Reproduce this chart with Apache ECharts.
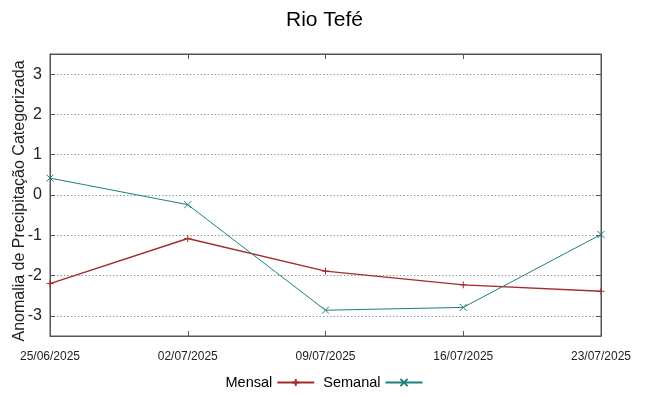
<!DOCTYPE html>
<html><head><meta charset="utf-8">
<script src="https://cdn.jsdelivr.net/npm/echarts@6/dist/echarts.min.js"></script>
<style>html,body{margin:0;padding:0;background:#fff}#c{width:649px;height:396px}</style>
</head><body><div id="c"></div>
<script>
const categories = ['25/06/2025','02/07/2025','09/07/2025','16/07/2025','23/07/2025'];
const mensal = [-2.2, -1.08, -1.89, -2.23, -2.39];
const semanal = [0.42, -0.24, -2.86, -2.79, -0.98];
const yTicks = [-3, -2, -1, 0, 1, 2, 3];

const FONT = '"Liberation Sans", Arial, sans-serif';
const plus = 'path://M0,-5 L0,5 M-5,0 L5,0';
const cross = 'path://M-5,-5 L5,5 M-5,5 L5,-5';
const chart = echarts.init(document.getElementById('c'), null, {renderer: 'canvas'});
chart.setOption({
  animation: false,
  backgroundColor: '#fff',
  title: {text: 'Rio Tefé', left: 'center', top: 5,
    textStyle: {fontFamily: FONT, fontSize: 21, fontWeight: 'normal', color: '#000'}},
  grid: {left: 50, right: 48, top: 54, bottom: 60, show: true, borderColor: '#555', borderWidth: 1,
    containLabel: false, outerBoundsMode: 'none'},
  legend: {
    bottom: 1, left: 'center', align: 'right', itemWidth: 37, itemHeight: 9, itemGap: 8,
    textStyle: {fontFamily: FONT, fontSize: 14.5, color: '#000'},
    data: ['Mensal', 'Semanal']
  },
  xAxis: [{
    type: 'category', data: categories, boundaryGap: false,
    axisLine: {show: true, onZero: false, lineStyle: {color: '#555'}},
    axisTick: {show: true, inside: true, length: 5, lineStyle: {color: '#555'}},
    axisLabel: {fontFamily: FONT, fontSize: 12, color: '#222', margin: 15, interval: 0},
    splitLine: {show: false}
  }, {
    type: 'category', data: categories, boundaryGap: false, position: 'top',
    axisLine: {show: true, onZero: false, lineStyle: {color: '#555'}},
    axisTick: {show: true, inside: true, length: 5, lineStyle: {color: '#555'}},
    axisLabel: {show: false}, splitLine: {show: false}
  }],
  yAxis: [{
    type: 'value', min: -3.5, max: 3.5,
    axisLine: {show: true, onZero: false, lineStyle: {color: '#555'}},
    axisTick: {show: true, inside: true, length: 5, customValues: yTicks, lineStyle: {color: '#555'}},
    axisLabel: {fontFamily: FONT, fontSize: 16, color: '#222', margin: 8, customValues: yTicks},
    splitLine: {show: true, lineStyle: {color: '#999', type: [1.5, 2], width: 1}},
    name: 'Anomalia de Precipitação Categorizada', nameLocation: 'middle', nameGap: 22, nameRotate: 90,
    nameMoveOverlap: false,
    nameTextStyle: {fontFamily: FONT, fontSize: 16, color: '#222', padding: [0, 12, 0, 0]}
  }, {
    type: 'value', min: -3.5, max: 3.5, position: 'right',
    axisLine: {show: true, onZero: false, lineStyle: {color: '#555'}},
    axisTick: {show: true, inside: true, length: 5, customValues: yTicks, lineStyle: {color: '#555'}},
    axisLabel: {show: false}, splitLine: {show: false}
  }],
  series: [{
    name: 'Mensal', type: 'line', data: mensal, xAxisIndex: 0, yAxisIndex: 0,
    symbol: plus, symbolSize: 7, showAllSymbol: true,
    lineStyle: {color: '#a52a2a', width: 1.4},
    itemStyle: {color: '#a52a2a', borderColor: '#a52a2a', borderWidth: 1}
  }, {
    name: 'Semanal', type: 'line', data: semanal, xAxisIndex: 0, yAxisIndex: 0,
    symbol: cross, symbolSize: 7, showAllSymbol: true,
    lineStyle: {color: '#1f8080', width: 1},
    itemStyle: {color: '#1f8080', borderColor: '#1f8080', borderWidth: 1}
  }]
});
</script></body></html>
